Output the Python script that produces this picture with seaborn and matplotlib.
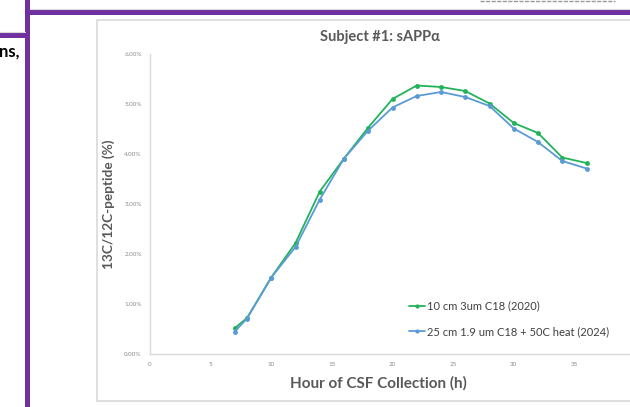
"""Recreate the 'Subject #1: sAPPα' labelling curve slide crop."""

import pandas as pd
import matplotlib.pyplot as plt
import seaborn as sns
from matplotlib.lines import Line2D
from matplotlib.patches import Rectangle

# Hours of CSF collection and the 13C/12C ratio (%) for each column setup.
hours = [7, 8, 10, 12, 14, 16, 18, 20, 22, 24, 26, 28, 30, 32, 34, 36]
ratio_2020 = [0.52, 0.72, 1.53, 2.22, 3.25, 3.91, 4.53, 5.10, 5.37, 5.34,
              5.26, 5.01, 4.62, 4.42, 3.93, 3.82]
ratio_2024 = [0.45, 0.71, 1.53, 2.14, 3.09, 3.91, 4.47, 4.93, 5.16, 5.24,
              5.14, 4.96, 4.51, 4.24, 3.86, 3.71]
series_names = ['10 cm 3um C18 (2020)', '25 cm 1.9 um C18 + 50C heat (2024)']
x_ticks = [0, 5, 10, 15, 20, 25, 30, 35]
y_ticks = [0, 1, 2, 3, 4, 5, 6]

GREEN = '#22b35a'
BLUE = '#5b9bd5'
PURPLE = '#7030a0'
GREY_TXT = '#595959'
BORDER = '#d9d9d9'

sns.set_theme(style='white')
plt.rcParams['font.family'] = ['Lato', 'DejaVu Sans']

df = pd.concat([
    pd.DataFrame({'hour': hours, 'ratio': ratio_2020, 'series': series_names[0]}),
    pd.DataFrame({'hour': hours, 'ratio': ratio_2024, 'series': series_names[1]}),
])

W, H = 630, 407
fig = plt.figure(figsize=(W / 100, H / 100), dpi=100)


def fx(px):
    return px / W


def fy(py):
    return 1 - py / H


# slide decoration around the chart (kept behind the axes)
fig.add_artist(Rectangle((fx(97), fy(401)), fx(700), fy(20) - fy(401),
                         transform=fig.transFigure, facecolor='white',
                         edgecolor=BORDER, lw=1.2, zorder=-5))
fig.add_artist(Rectangle((fx(25), 0), fx(5), 1, transform=fig.transFigure,
                         color=PURPLE, lw=0))
fig.add_artist(Rectangle((fx(30), fy(15)), 1, fy(10) - fy(15),
                         transform=fig.transFigure, color=PURPLE, lw=0))
fig.add_artist(Rectangle((0, fy(38)), fx(25), fy(33) - fy(38),
                         transform=fig.transFigure, color=PURPLE, lw=0))
fig.add_artist(Line2D([fx(30), 1], [fy(9), fy(9)], transform=fig.transFigure,
                      color=BORDER, lw=0.8))
fig.add_artist(Line2D([0, fx(25)], [fy(32), fy(32)], transform=fig.transFigure,
                      color=BORDER, lw=0.8))
fig.add_artist(Line2D([fx(480), fx(615)], [fy(0.6), fy(0.6)],
                      transform=fig.transFigure, color='#999999', lw=1,
                      linestyle=(0, (3, 1))))
fig.text(fx(-1), fy(52), 'ns,', fontsize=12, fontweight='bold', color='black',
         ha='left', va='center')

# plot area: x 0..40 maps to 150..635 px, y 0..6 % maps to 354..54 px
ax = fig.add_axes([fx(150), fy(354), fx(485), fy(54) - fy(354)])
ax.patch.set_alpha(0)
ax.set_zorder(2)

sns.lineplot(data=df, x='hour', y='ratio', hue='series',
             palette=[GREEN, BLUE], marker='o', markersize=3.5,
             markeredgewidth=0, linewidth=1.3, ax=ax, legend=False)

ax.set_xlim(0, 40)
ax.set_ylim(0, 6)
ax.set_xticks(x_ticks)
ax.set_xticklabels([str(t) for t in x_ticks])
ax.set_yticks(y_ticks)
ax.set_yticklabels([f'{t:.2f}%' for t in y_ticks])
ax.tick_params(length=0, labelsize=4.5, labelcolor='#8c8c8c', pad=6)

for side in ['top', 'right']:
    ax.spines[side].set_visible(False)
for side in ['left', 'bottom']:
    ax.spines[side].set_color(BORDER)
    ax.spines[side].set_linewidth(1)

ax.set_xlabel('Hour of CSF Collection (h)', fontsize=11, fontweight='bold',
              color=GREY_TXT)
ax.set_ylabel('13C/12C-peptide (%)', fontsize=9.8, fontweight='bold',
              color=GREY_TXT)
ax.xaxis.set_label_coords((378 - 150) / 485, -0.072)
ax.yaxis.set_label_coords(-(150 - 115) / 485, 0.5)

fig.text(fx(380), fy(37), 'Subject #1: sAPPα', fontsize=10.5, fontweight='bold',
         color=GREY_TXT, ha='center', va='center')

handles = [Line2D([], [], color=c, marker='o', markersize=3, markeredgewidth=0,
                  lw=1.3) for c in [GREEN, BLUE]]
ax.legend(handles, series_names, loc='upper left',
          bbox_to_anchor=((399 - 150) / 485, 0.212),
          frameon=False, fontsize=8, labelcolor='#404040', handlelength=1.4,
          handletextpad=0.2, labelspacing=1.3)

fig.savefig('out.png', dpi=100)
